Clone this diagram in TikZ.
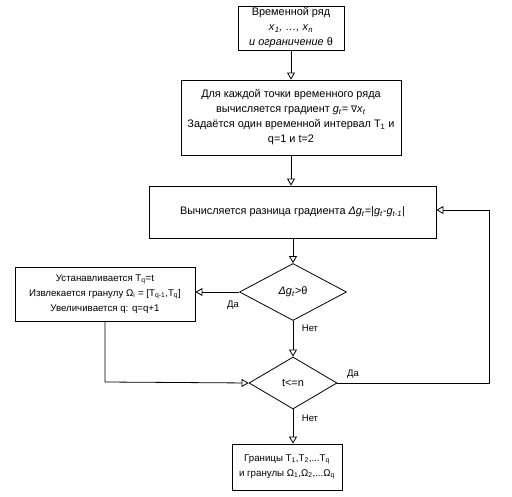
\documentclass[tikz,border=0pt]{standalone}
\usepackage{fontspec}
\setmainfont{Liberation Sans}
\newfontfamily\symfont{DejaVu Sans}
\usetikzlibrary{arrows.meta,shapes.geometric}
\begin{document}
\begin{tikzpicture}[x=1pt,y=-1pt,
  font=\fontsize{10.9}{15}\selectfont,
  box/.style={draw,line width=0.8pt,inner sep=0pt,align=center},
  smallbox/.style={box,font=\fontsize{9.7}{15}\selectfont},
  dec/.style={draw,line width=0.8pt,diamond,inner sep=0pt},
  flow/.style={line width=0.8pt,-{Triangle[open,length=7pt,width=8pt]}},
  lbl/.style={font=\fontsize{9.5}{10}\selectfont}]
\useasboundingbox (0,0) rectangle (512,497);
\node[box,minimum width=106,minimum height=44] (b1) at (291,28)
  {Временной ряд\\ \textit{x}\textsubscript{\textit{1}}\textit{, \dots, x}\textsubscript{\textit{n}}\\ \textit{и ограничение} θ};
\node[box,minimum width=220,minimum height=75] (b2) at (291,117.5)
  {Для каждой точки временного ряда\\ вычисляется градиент \textit{g}\textsubscript{\textit{t}}= {\symfont\small ∇}\textit{x}\textsubscript{\textit{t}}\\ Задаётся один временной интервал T\textsubscript{1} и\\ q=1 и t=2};
\node[box,minimum width=287,minimum height=52] (b3) at (292.5,212)
  {Вычисляется разница градиента \textit{Δg}\textsubscript{\textit{t}}=|\textit{g}\textsubscript{\textit{t}}-\textit{g}\textsubscript{\textit{t-1}}|};
\node[dec,minimum width=107,minimum height=57] (d1) at (293,292) {\textit{Δg}\textsubscript{\textit{t}}\textit{>}θ};
\node[smallbox,minimum width=180,minimum height=54] (b4) at (105,294)
  {Устанавливается T\textsubscript{q}=t\\ Извлекается гранулу Ω\textsubscript{i} = [T\textsubscript{q-1},T\textsubscript{q}]\\ Увеличивается q: q=q+1};
\node[dec,minimum width=88,minimum height=52] (d2) at (293,383) {t<=n};
\node[smallbox,minimum width=110,minimum height=46] (b5) at (287,467)
  {Границы T\textsubscript{1},T\textsubscript{2},...T\textsubscript{q}\\ и гранулы Ω\textsubscript{1},Ω\textsubscript{2},...Ω\textsubscript{q}};
\coordinate (r1) at (489,383);
\coordinate (r2) at (489,210);
\coordinate (l1) at (105,382);
\draw[flow] (b1.south) -- (b1.south |- b2.north);
\draw[flow] (b2.south) -- (b2.south |- b3.north);
\draw[flow] (b3.south -| d1.north) -- (d1.north);
\draw[flow] (d1.west) -- (d1.west -| b4.east);
\draw[flow] (d1.south) -- (d2.north);
\draw[flow] (b4.south) -- (l1) -- (d2.west);
\draw[flow] (d2.east) -- (r1) -- (r2) -- (r2 -| b3.east);
\draw[flow] (d2.south) -- (d2.south |- b5.north);
\node[lbl] (t1) at (233,305) {Да};
\node[lbl] (t2) at (310,328) {Нет};
\node[lbl] (t3) at (353,374) {Да};
\node[lbl] (t4) at (310,418) {Нет};
\end{tikzpicture}
\end{document}
